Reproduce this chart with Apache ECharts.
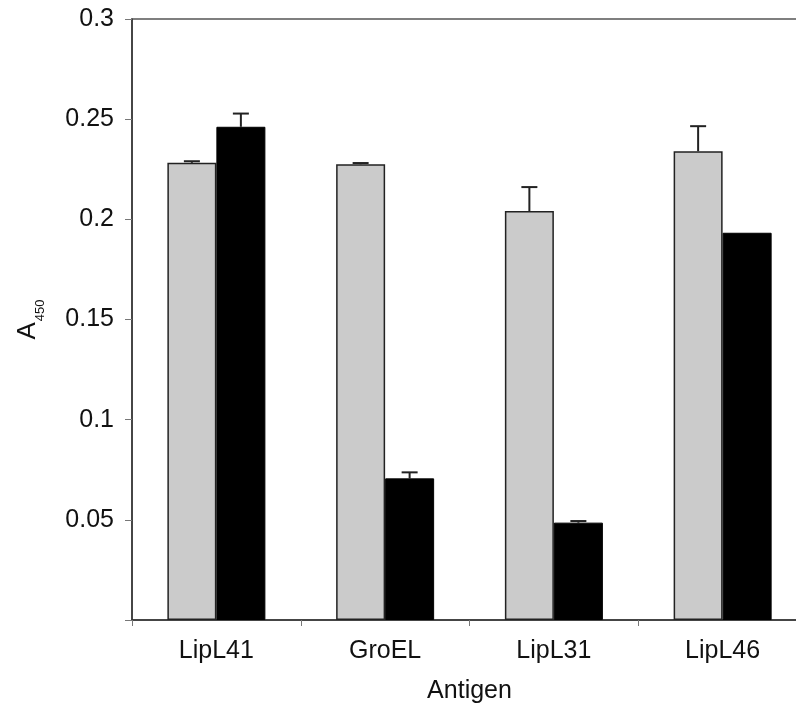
<!DOCTYPE html>
<html>
<head>
<meta charset="utf-8">
<script src="https://cdn.jsdelivr.net/npm/echarts@6/dist/echarts.min.js"></script>
<style>html,body{margin:0;padding:0;background:#fff}#c{width:796px;height:707px}</style>
</head>
<body>
<div id="c"></div>
<script>
var categories = ['LipL41', 'GroEL', 'LipL31', 'LipL46'];
var greyValues = [0.2282, 0.2275, 0.2041, 0.2340];
var greyErrors = [0.0008, 0.0006, 0.0120, 0.0125];
var blackValues = [0.2462, 0.0707, 0.0486, 0.1933];
var blackErrors = [0.0066, 0.0030, 0.0008, 0];
var yTicks = [0.05, 0.1, 0.15, 0.2, 0.25, 0.3];

var BAR_W = 49;
function errSeries(vals, errs, offset, color) {
  return {
    type: 'custom',
    z: 1,
    data: vals.map(function (v, i) { return [i, v, errs[i]]; }),
    renderItem: function (params, api) {
      var i = api.value(0), v = api.value(1), e = api.value(2);
      if (!e) return null;
      var p0 = api.coord([i, v]);
      var p1 = api.coord([i, v + e]);
      var x = p0[0] + offset;
      return {
        type: 'group',
        children: [
          { type: 'line', shape: { x1: x, y1: p0[1], x2: x, y2: p1[1] }, style: { stroke: color, lineWidth: 2 } },
          { type: 'line', shape: { x1: x - 8, y1: p1[1], x2: x + 8, y2: p1[1] }, style: { stroke: color, lineWidth: 2 } }
        ]
      };
    }
  };
}

var chart = echarts.init(document.getElementById('c'));
chart.setOption({
  animation: false,
  grid: { left: 132, top: 19, width: 675, height: 601, outerBoundsMode: 'none', containLabel: false, show: true, borderColor: '#555', borderWidth: 1.5, backgroundColor: '#fff' },
  xAxis: {
    type: 'category',
    data: categories,
    name: 'Antigen',
    nameLocation: 'middle',
    nameGap: 59,
    nameTextStyle: { fontFamily: 'Liberation Sans', fontSize: 25, color: '#111' },
    axisLine: { lineStyle: { color: '#333', width: 1.5 } },
    axisTick: { show: true, length: 6, lineStyle: { color: '#777', width: 1 } },
    axisLabel: { fontFamily: 'Liberation Sans', fontSize: 25, color: '#111', margin: 19 }
  },
  yAxis: {
    type: 'value',
    min: 0,
    max: 0.3,
    interval: 0.05,
    name: '{a|A}{s|450}',
    nameLocation: 'middle',
    nameRotate: 90,
    nameGap: 91,
    nameTextStyle: {
      rich: {
        a: { fontFamily: 'Liberation Sans', fontSize: 26, color: '#111', lineHeight: 28, verticalAlign: 'bottom' },
        s: { fontFamily: 'Liberation Sans', fontSize: 13, color: '#111', lineHeight: 28, verticalAlign: 'bottom', padding: [0, 0, -6, 1] }
      }
    },
    splitLine: { show: false },
    axisLine: { show: true, lineStyle: { color: '#333', width: 1.5 } },
    axisTick: { show: true, length: 7, lineStyle: { color: '#777', width: 1 } },
    axisLabel: {
      fontFamily: 'Liberation Sans', fontSize: 25, color: '#111', margin: 18,
      formatter: function (v) { return v === 0 ? '' : String(+v.toFixed(2)); }
    }
  },
  series: [
    {
      type: 'bar', data: greyValues, barWidth: BAR_W, barGap: '0%', z: 2,
      itemStyle: { color: '#cbcbcb', borderColor: '#222', borderWidth: 1.5 }
    },
    {
      type: 'bar', data: blackValues, barWidth: BAR_W, barGap: '0%', z: 2,
      itemStyle: { color: '#000', borderColor: '#000', borderWidth: 1 }
    },
    errSeries(greyValues, greyErrors, -BAR_W / 2, '#222'),
    errSeries(blackValues, blackErrors, BAR_W / 2, '#222')
  ]
});
</script>
</body>
</html>
